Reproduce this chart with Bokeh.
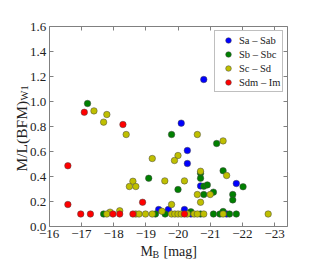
import math
from bokeh.plotting import figure
from bokeh.models import Range1d, LinearAxis, Label, FixedTicker, CustomJSTickFormatter, PrintfTickFormatter
from bokeh.embed import file_html
from bokeh.resources import INLINE

# ---- data ----
sa_x = [-20.80, -20.10, -20.29, -20.29, -21.81, -20.70, -19.40, -19.70, -20.20, -20.40, -21.51]
sa_y = [1.176, 0.827, 0.608, 0.504, 0.344, 0.325, 0.136, 0.136, 0.136, 0.10, 0.10]

sb_x = [-17.19, -19.80, -21.20, -21.40, -20.70, -20.70, -19.09, -22.02, -20.80, -20.91,
        -20.00, -21.10, -20.80, -21.70, -21.70, -20.40, -21.40,
        -17.69, -19.30, -19.60, -20.70, -21.10, -21.30, -21.60, -21.81]
sb_y = [0.984, 0.736, 0.664, 0.446, 0.426, 0.386, 0.386, 0.318, 0.322, 0.333,
        0.296, 0.275, 0.256, 0.256, 0.213, 0.118, 0.12,
        0.10, 0.10, 0.10, 0.10, 0.10, 0.10, 0.10, 0.10]

sc_x = [-17.39, -17.79, -17.69, -18.39, -20.60, -21.40, -19.20, -20.00, -19.89, -20.70,
        -21.51, -19.59, -20.20, -18.60, -18.49, -18.69, -20.60, -21.00, -20.70, -19.80,
        -19.50, -17.89, -18.19,
        -17.79, -18.69, -18.79, -18.99, -19.20, -19.80, -19.90, -20.00, -20.10, -20.29,
        -20.50, -20.60, -20.80, -21.40, -22.80]
sc_y = [0.925, 0.896, 0.835, 0.736, 0.736, 0.685, 0.544, 0.568, 0.528, 0.442,
        0.408, 0.365, 0.365, 0.362, 0.32, 0.32, 0.256, 0.256, 0.194, 0.176,
        0.122, 0.115, 0.126,
        0.10, 0.10, 0.10, 0.10, 0.10, 0.10, 0.10, 0.10, 0.10, 0.10,
        0.10, 0.10, 0.10, 0.10, 0.10]

sd_x = [-17.09, -18.29, -16.58, -16.58, -18.90, -16.98, -17.28, -17.98, -18.19, -18.60, -20.20]
sd_y = [0.914, 0.816, 0.486, 0.176, 0.194, 0.10, 0.10, 0.10, 0.10, 0.10, 0.10]

series = [
    ("Sa \u2013 Sab", "#0000ff", sa_x, sa_y),
    ("Sb \u2013 Sbc", "#008000", sb_x, sb_y),
    ("Sc \u2013 Sd", "#bfbf00", sc_x, sc_y),
    ("Sdm \u2013 Im", "#ff0000", sd_x, sd_y),
]

x_ticks = [-16, -17, -18, -19, -20, -21, -22, -23]
y_ticks = [0.0, 0.2, 0.4, 0.6, 0.8, 1.0, 1.2, 1.4, 1.6]
X_MIN, X_MAX = -16.0, -23.4   # axes box limits
Y_MIN, Y_MAX = 0.0, 1.6

FONT = "Liberation Serif"
FRAME = "#808080"
TXT = "#222222"

# canvas geometry: the axes box occupies px 48.7..287 (x) and 26..226 (y)
W, H = 312, 259
BOX_L, BOX_R, BOX_T, BOX_B = 48.7, 287.0, 26.0, 226.0
sx = (BOX_R - BOX_L) / (X_MIN - X_MAX)
sy = (BOX_B - BOX_T) / (Y_MAX - Y_MIN)
xr = Range1d(X_MIN + BOX_L / sx, X_MIN - (W - BOX_L) / sx)
yr = Range1d(Y_MIN - (H - BOX_B) / sy, Y_MAX + BOX_T / sy)

p = figure(width=W, height=H, x_range=xr, y_range=yr,
           output_backend="svg", toolbar_location=None,
           x_axis_location=None, y_axis_location=None,
           min_border=0)
p.xgrid.visible = False
p.ygrid.visible = False
p.outline_line_color = None
p.background_fill_color = "white"
p.border_fill_color = "white"

def make_axis(ticks, loc, bounds, labels, formatter=None):
    ax = LinearAxis(fixed_location=loc, bounds=bounds)
    ax.ticker = FixedTicker(ticks=ticks)
    ax.major_tick_in = 4
    ax.major_tick_out = 0
    ax.minor_tick_line_color = None
    ax.major_tick_line_color = FRAME
    ax.axis_line_color = FRAME
    ax.axis_line_width = 1
    if labels:
        ax.major_label_text_font = FONT
        ax.major_label_text_color = TXT
        ax.major_label_text_font_size = "13px"
        ax.major_label_standoff = 3
        ax.formatter = formatter
    else:
        ax.major_label_text_color = None
    return ax

xb = (X_MAX, X_MIN)
yb = (Y_MIN, Y_MAX)
p.add_layout(make_axis(x_ticks, Y_MIN, xb, True,
                       CustomJSTickFormatter(code="return '\\u2212' + Math.abs(tick).toFixed(0);")), "below")
p.add_layout(make_axis(y_ticks, X_MIN, yb, True, PrintfTickFormatter(format="%.1f")), "left")
p.add_layout(make_axis(x_ticks, Y_MAX, xb, False), "above")
p.add_layout(make_axis(y_ticks, X_MAX, yb, False), "right")

for name, col, xs, ys in series:
    p.scatter(xs, ys, size=6.5, fill_color=col, line_color="#444444",
              line_width=0.5, legend_label=name)

lg = p.legend[0]
lg.location = (214, H - 92)
lg.margin = 0
lg.padding = 2
lg.spacing = 0
lg.label_height = 14
lg.glyph_height = 14
lg.glyph_width = 22
lg.label_standoff = 0
lg.border_line_color = FRAME
lg.label_text_font = FONT
lg.label_text_font_size = "10.5px"
lg.label_text_color = TXT

# axis titles (with subscripts) as text labels placed through the data scales
def px_x(px):
    return X_MIN - (px - BOX_L) / sx

def px_y(py):
    return Y_MIN + (BOX_B - py) / sy

def lab(x, y, text, size, angle=0.0):
    p.add_layout(Label(x=x, y=y, text=text, angle=angle, text_font=FONT,
                       text_font_size=size, text_color=TXT, text_align="left",
                       text_baseline="alphabetic"))

lab(px_x(140), px_y(251), "M", "14px")
lab(px_x(152), px_y(254), "B", "10px")
lab(px_x(163), px_y(251), "[mag]", "14px")
lab(px_x(21), px_y(171), "M/L(BFM)", "15.5px", math.pi / 2)
lab(px_x(24), px_y(100), "W1", "10.5px", math.pi / 2)

open("out.html", "w").write(file_html(p, INLINE))
